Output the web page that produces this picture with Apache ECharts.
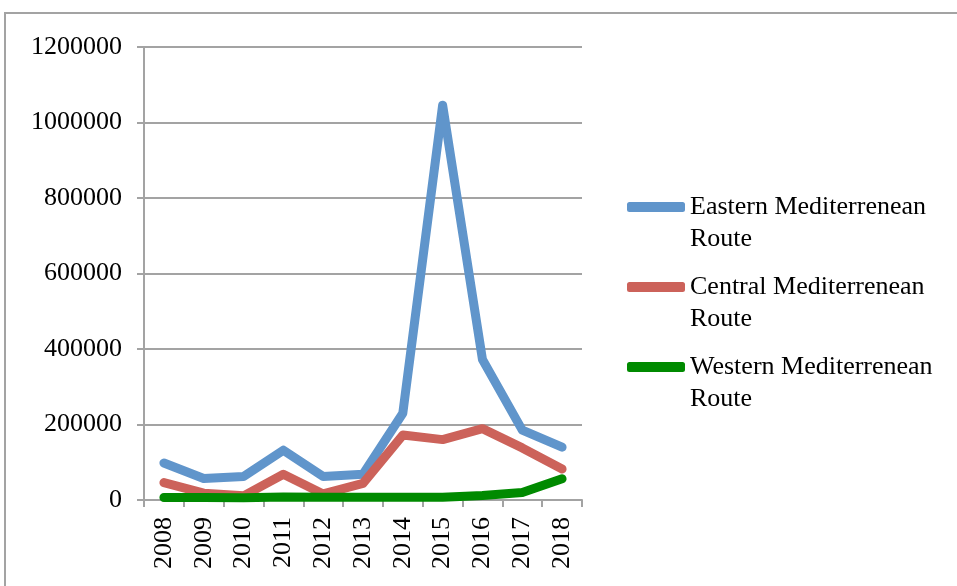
<!DOCTYPE html>
<html>
<head>
<meta charset="utf-8">
<script src="https://cdn.jsdelivr.net/npm/echarts@6/dist/echarts.min.js"></script>
<style>
  html, body { margin: 0; padding: 0; background: #fff; }
  #chart { width: 957px; height: 586px; }
</style>
</head>
<body>
<div id="chart"></div>
<script>
const years = ['2008', '2009', '2010', '2011', '2012', '2013', '2014', '2015', '2016', '2017', '2018']
const eastern = [98000, 57000, 62000, 132000, 62000, 68000, 230000, 1046000, 372000, 185000, 140000]
const central = [46000, 18000, 11000, 68000, 16000, 44000, 172000, 160000, 189000, 138000, 82000]
const western = [6500, 6500, 6000, 8000, 7000, 7000, 7500, 7000, 12000, 20000, 56000]
const seriesNames = ['Eastern Mediterrenean Route', 'Central Mediterrenean Route', 'Western Mediterrenean Route']
const colors = ['#6095cb', '#cc625a', '#008a00']

const font = 'Liberation Serif'
const chart = echarts.init(document.getElementById('chart'))

const mkLine = (name, data, color) => ({
  name: name,
  type: 'line',
  data: data,
  symbol: 'none',
  color: color,
  lineStyle: { width: 9, color: color, cap: 'round', join: 'round' }
})

const option = {
  animation: false,
  backgroundColor: '#fff',
  graphic: [
    {
      type: 'rect',
      shape: { x: 5, y: 13, width: 1000, height: 700 },
      style: { fill: 'none', stroke: '#a3a3a3', lineWidth: 2 },
      silent: true
    }
  ],
  grid: { left: 144, right: 375, top: 47, bottom: 86 },
  legend: {
    orient: 'vertical',
    left: 627,
    top: 159,
    padding: 0,
    itemWidth: 58,
    itemHeight: 10,
    itemGap: -16,
    icon: 'roundRect',
    data: seriesNames,
    // blank first line keeps the icon level with the first text line
    formatter: (n) => '\n' + n.replace(' Route', '\nRoute'),
    textStyle: {
      fontFamily: font,
      fontSize: 26,
      color: '#000',
      lineHeight: 32
    }
  },
  xAxis: {
    type: 'category',
    data: years,
    boundaryGap: true,
    axisLine: { lineStyle: { color: '#a3a3a3', width: 2 } },
    axisTick: { show: true, length: 7, interval: 0, lineStyle: { color: '#a3a3a3', width: 2 } },
    axisLabel: { interval: 0, rotate: 90, margin: 17, fontFamily: font, fontSize: 26, color: '#000' }
  },
  yAxis: {
    type: 'value',
    min: 0,
    max: 1200000,
    interval: 200000,
    axisLine: { show: true, lineStyle: { color: '#a3a3a3', width: 2 } },
    axisTick: { show: true, length: 7, lineStyle: { color: '#a3a3a3', width: 2 } },
    splitLine: { show: true, lineStyle: { color: '#a3a3a3', width: 2 } },
    axisLabel: { margin: 22, fontFamily: font, fontSize: 26, color: '#000', formatter: (v) => String(v) }
  },
  series: [
    mkLine(seriesNames[0], eastern, colors[0]),
    mkLine(seriesNames[1], central, colors[1]),
    mkLine(seriesNames[2], western, colors[2])
  ]
}

chart.setOption(option)
</script>
</body>
</html>
